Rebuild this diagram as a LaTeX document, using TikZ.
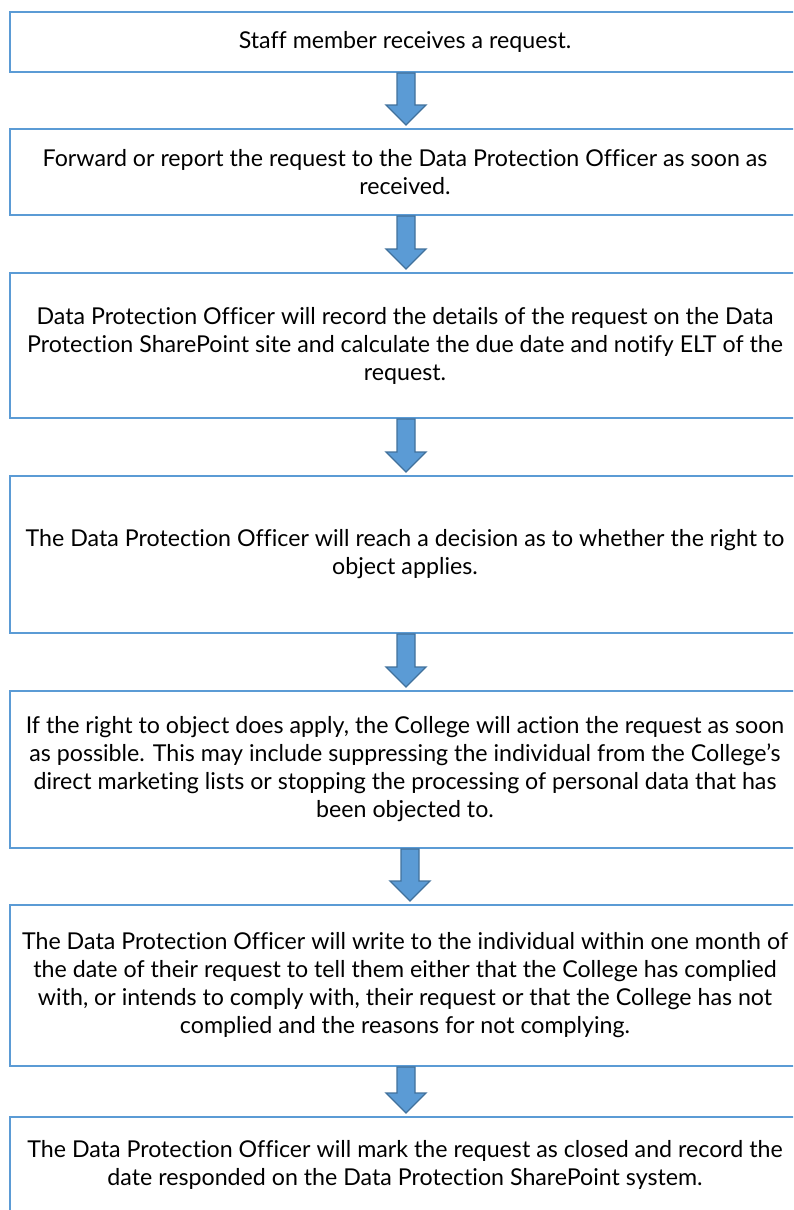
\documentclass[tikz,border=0pt]{standalone}
\usepackage{fontspec}
\setmainfont{Lato}[Ligatures=NoCommon]
\usetikzlibrary{calc}
\definecolor{boxblue}{HTML}{5B9BD5}
\definecolor{edgeblue}{HTML}{41719C}
\tikzstyle{stepbox}=[draw=boxblue,line width=2pt,minimum width=790pt,inner sep=0pt,align=center,font=\fontsize{23.2}{28}\selectfont]
\tikzstyle{blockarrow}=[fill=boxblue,draw=edgeblue,line width=1.3pt,line join=miter]
% block arrow from the bottom of #2 to the top of #3, #1 shifts it sideways
\newcommand{\flowarrow}[3][1]{%
\draw[blockarrow] let \p1 = ($(#2.south)+(#1,0)$), \p2 = (#3.north) in
  (\x1-9,\y1) -- (\x1+9,\y1) -- (\x1+9,\y2+23) -- (\x1+20,\y2+23) -- (\x1,\y2+3)
  -- (\x1-20,\y2+23) -- (\x1-9,\y2+23) -- cycle;}

\begin{document}
\begin{tikzpicture}[x=1pt,y=1pt]
\clip (0,0) rectangle (793,-1210);
\node[stepbox,minimum height=60pt] at (405, -42) (s1) {Staff member receives a request.};
\node[stepbox,minimum height=86pt] at (405, -172) (s2) {Forward or report the request to the Data Protection Officer as soon as\\received.};
\node[stepbox,minimum height=145pt] at (405, -345.5) (s3) {Data Protection Officer will record the details of the request on the Data\\Protection SharePoint site and calculate the due date and notify ELT of the\\request.};
\node[stepbox,minimum height=157pt] at (405, -554.5) (s4) {The Data Protection Officer will reach a decision as to whether the right to\\object applies.};
\node[stepbox,minimum height=157pt] at (405, -769.5) (s5) {If the right to object does apply, the College will action the request as soon\\as possible. This may include suppressing the individual from the College’s\\direct marketing lists or stopping the processing of personal data that has\\been objected to.};
\node[stepbox,minimum height=161pt] at (405, -985.5) (s6) {The Data Protection Officer will write to the individual within one month of\\the date of their request to tell them either that the College has complied\\with, or intends to comply with, their request or that the College has not\\complied and the reasons for not complying.};
\node[stepbox,minimum height=96pt] at (405, -1165) (s7) {The Data Protection Officer will mark the request as closed and record the\\date responded on the Data Protection SharePoint system.};
\flowarrow{s1}{s2}
\flowarrow{s2}{s3}
\flowarrow{s3}{s4}
\flowarrow{s4}{s5}
\flowarrow[5]{s5}{s6}
\flowarrow{s6}{s7}
\end{tikzpicture}
\end{document}
